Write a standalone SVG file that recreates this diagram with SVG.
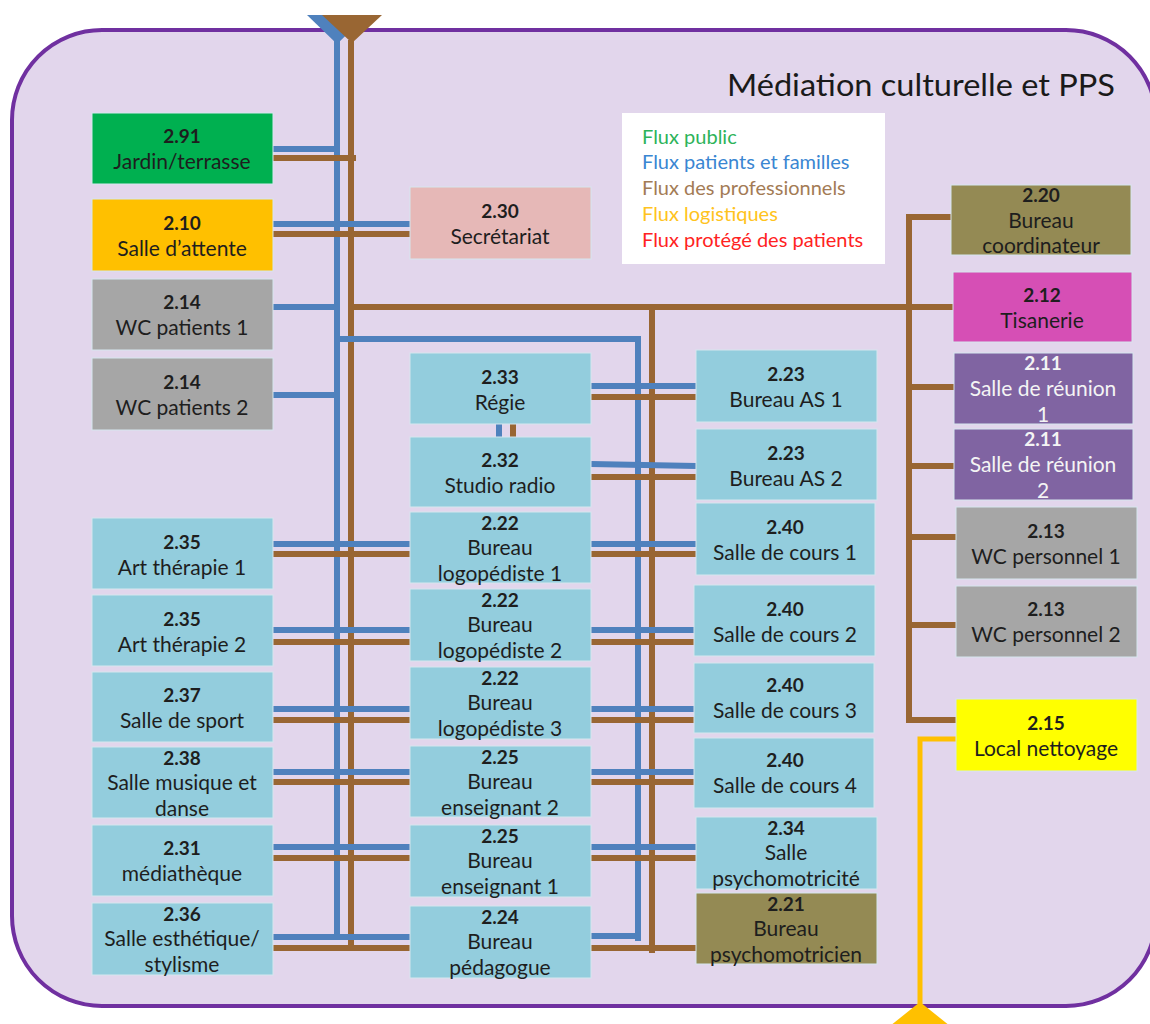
<svg xmlns="http://www.w3.org/2000/svg" width="1150" height="1024" viewBox="0 0 1150 1024">
  <style>
    .room { stroke: #D6E6EE; stroke-width: 1; }
    .blue-room { fill: #93CDDD; }
    .grey-room { fill: #A6A6A6; }
    .olive-room { fill: #948A54; }
    .lbl { font-family: Lato, "Liberation Sans", sans-serif; font-size: 21px; fill: #1E1E1E; text-anchor: middle; }
    .num { font-weight: bold; font-size: 19px; }
    .white { fill: #F4F4F4; }
    .bl { stroke: #4F81BD; stroke-width: 6; fill: none; }
    .br { stroke: #996633; stroke-width: 6; fill: none; }
    .lg { stroke: #FFC000; stroke-width: 5; fill: none; }
    .legend { font-family: Lato, "Liberation Sans", sans-serif; font-size: 20px; }
  </style>

  <!-- service outline -->
  <rect x="12" y="30" width="1144" height="976" rx="90" ry="90" fill="#E2D6EC" stroke="#7030A0" stroke-width="4"/>
  <text x="727" y="96" font-family="Lato, 'Liberation Sans', sans-serif" font-size="31" fill="#1A1A1A" textLength="388" lengthAdjust="spacingAndGlyphs">Médiation culturelle et PPS</text>

  <!-- legend -->
  <g id="legend">
    <rect x="622" y="113" width="263" height="151" fill="#FFFFFF"/>
    <text class="legend" x="642" y="144" fill="#2DB35A">Flux public</text>
    <text class="legend" x="642" y="169" fill="#3A86D2">Flux patients et familles</text>
    <text class="legend" x="642" y="195" fill="#A37B55">Flux des professionnels</text>
    <text class="legend" x="642" y="221" fill="#FFC320">Flux logistiques</text>
    <text class="legend" x="642" y="247" fill="#FF2222">Flux protégé des patients</text>
  </g>

  <!-- circulation lines -->
  <g id="connectors">
    <!-- main spines -->
    <line class="bl" x1="337" y1="40" x2="337" y2="940"/>
    <line class="br" x1="351" y1="40" x2="351" y2="950"/>
    <polyline class="bl" points="337,339 638,339 638,941"/>
    <line class="br" x1="351" y1="307" x2="953" y2="307"/>
    <line class="br" x1="652" y1="307" x2="652" y2="953"/>

    <!-- upper left rooms -->
    <line class="bl" x1="273" y1="149" x2="337" y2="149"/>
    <line class="br" x1="273" y1="158" x2="356" y2="158"/>
    <line class="bl" x1="273" y1="224" x2="410" y2="224"/>
    <line class="br" x1="273" y1="234" x2="410" y2="234"/>
    <line class="bl" x1="273" y1="307" x2="337" y2="307"/>
    <line class="bl" x1="273" y1="395" x2="337" y2="395"/>

    <!-- Régie / Studio -->
    <line class="bl" x1="591" y1="386" x2="696" y2="386"/>
    <line class="br" x1="591" y1="397" x2="696" y2="397"/>
    <line class="bl" x1="499" y1="424" x2="499" y2="437"/>
    <line class="br" x1="513" y1="424" x2="513" y2="437"/>
    <line class="bl" x1="591" y1="464" x2="696" y2="466"/>
    <line class="br" x1="591" y1="477" x2="696" y2="477"/>

    <!-- rows crossing the two spines -->
    <line class="bl" x1="273" y1="544" x2="410" y2="544"/>
    <line class="br" x1="273" y1="554" x2="410" y2="554"/>
    <line class="bl" x1="591" y1="544" x2="696" y2="544"/>
    <line class="br" x1="591" y1="554" x2="696" y2="554"/>

    <line class="bl" x1="273" y1="630" x2="410" y2="630"/>
    <line class="br" x1="273" y1="642" x2="410" y2="642"/>
    <line class="bl" x1="591" y1="630" x2="696" y2="630"/>
    <line class="br" x1="591" y1="642" x2="696" y2="642"/>

    <line class="bl" x1="273" y1="709" x2="410" y2="709"/>
    <line class="br" x1="273" y1="720" x2="410" y2="720"/>
    <line class="bl" x1="591" y1="709" x2="696" y2="709"/>
    <line class="br" x1="591" y1="720" x2="696" y2="720"/>

    <line class="bl" x1="273" y1="772" x2="410" y2="772"/>
    <line class="br" x1="273" y1="782" x2="410" y2="782"/>
    <line class="bl" x1="591" y1="772" x2="696" y2="772"/>
    <line class="br" x1="591" y1="782" x2="696" y2="782"/>

    <line class="bl" x1="273" y1="847" x2="410" y2="847"/>
    <line class="br" x1="273" y1="858" x2="410" y2="858"/>
    <line class="bl" x1="591" y1="847" x2="696" y2="847"/>
    <line class="br" x1="591" y1="858" x2="696" y2="858"/>

    <line class="bl" x1="273" y1="937" x2="410" y2="937"/>
    <line class="br" x1="273" y1="948" x2="410" y2="948"/>
    <line class="bl" x1="591" y1="936" x2="638" y2="936"/>
    <line class="br" x1="591" y1="948" x2="696" y2="948"/>

    <!-- staff spine on the right -->
    <polyline class="br" points="952,217 909,217 909,720 956,720"/>
    <line class="br" x1="909" y1="387" x2="954" y2="387"/>
    <line class="br" x1="909" y1="466" x2="954" y2="466"/>
    <line class="br" x1="909" y1="537" x2="956" y2="537"/>
    <line class="br" x1="909" y1="625" x2="956" y2="625"/>

    <!-- logistics -->
    <polyline class="lg" points="956,739 920,739 920,1004"/>

    <!-- entrances -->
    <polygon points="307,15 367,15 337,44" fill="#4F81BD"/>
    <polygon points="322,15 382,15 352,43" fill="#996633"/>
    <polygon points="920,1002 890,1026 950,1026" fill="#FFC000"/>
  </g>

  <!-- left column -->
  <g id="n291"><rect class="room" x="92" y="113" width="181" height="71" fill="#00B050"/>
    <text class="lbl" x="182"><tspan class="num" x="182" y="143">2.91</tspan><tspan x="182" y="169">Jardin/terrasse</tspan></text></g>
  <g id="n210"><rect class="room" x="92" y="199" width="181" height="72" fill="#FFC000"/>
    <text class="lbl" x="182"><tspan class="num" x="182" y="230">2.10</tspan><tspan x="182" y="256">Salle d’attente</tspan></text></g>
  <g id="n214a"><rect class="room grey-room" x="92" y="279" width="181" height="71"/>
    <text class="lbl" x="182"><tspan class="num" x="182" y="309">2.14</tspan><tspan x="182" y="335">WC patients 1</tspan></text></g>
  <g id="n214b"><rect class="room grey-room" x="92" y="358" width="181" height="72"/>
    <text class="lbl" x="182"><tspan class="num" x="182" y="389">2.14</tspan><tspan x="182" y="415">WC patients 2</tspan></text></g>

  <g id="n235a"><rect class="room blue-room" x="92" y="518" width="181" height="71"/>
    <text class="lbl" x="182"><tspan class="num" x="182" y="549">2.35</tspan><tspan x="182" y="575">Art thérapie 1</tspan></text></g>
  <g id="n235b"><rect class="room blue-room" x="92" y="595" width="181" height="71"/>
    <text class="lbl" x="182"><tspan class="num" x="182" y="626">2.35</tspan><tspan x="182" y="652">Art thérapie 2</tspan></text></g>
  <g id="n237"><rect class="room blue-room" x="92" y="672" width="181" height="70"/>
    <text class="lbl" x="182"><tspan class="num" x="182" y="702">2.37</tspan><tspan x="182" y="728">Salle de sport</tspan></text></g>
  <g id="n238"><rect class="room blue-room" x="92" y="747" width="181" height="71"/>
    <text class="lbl" x="182"><tspan class="num" x="182" y="765">2.38</tspan><tspan x="182" y="790">Salle musique et</tspan><tspan x="182" y="816">danse</tspan></text></g>
  <g id="n231"><rect class="room blue-room" x="92" y="825" width="181" height="71"/>
    <text class="lbl" x="182"><tspan class="num" x="182" y="855">2.31</tspan><tspan x="182" y="881">médiathèque</tspan></text></g>
  <g id="n236"><rect class="room blue-room" x="92" y="903" width="181" height="72"/>
    <text class="lbl" x="182"><tspan class="num" x="182" y="921">2.36</tspan><tspan x="182" y="946">Salle esthétique/</tspan><tspan x="182" y="972">stylisme</tspan></text></g>

  <!-- middle column -->
  <g id="n230"><rect class="room" x="410" y="187" width="181" height="72" fill="#E6B8B7"/>
    <text class="lbl" x="500"><tspan class="num" x="500" y="218">2.30</tspan><tspan x="500" y="244">Secrétariat</tspan></text></g>
  <g id="n233"><rect class="room blue-room" x="410" y="353" width="181" height="71"/>
    <text class="lbl" x="500"><tspan class="num" x="500" y="384">2.33</tspan><tspan x="500" y="410">Régie</tspan></text></g>
  <g id="n232"><rect class="room blue-room" x="410" y="437" width="181" height="70"/>
    <text class="lbl" x="500"><tspan class="num" x="500" y="467">2.32</tspan><tspan x="500" y="493">Studio radio</tspan></text></g>
  <g id="n222a"><rect class="room blue-room" x="410" y="512" width="181" height="71"/>
    <text class="lbl" x="500"><tspan class="num" x="500" y="530">2.22</tspan><tspan x="500" y="555">Bureau</tspan><tspan x="500" y="581">logopédiste 1</tspan></text></g>
  <g id="n222b"><rect class="room blue-room" x="410" y="589" width="181" height="72"/>
    <text class="lbl" x="500"><tspan class="num" x="500" y="607">2.22</tspan><tspan x="500" y="632">Bureau</tspan><tspan x="500" y="658">logopédiste 2</tspan></text></g>
  <g id="n222c"><rect class="room blue-room" x="410" y="667" width="181" height="72"/>
    <text class="lbl" x="500"><tspan class="num" x="500" y="685">2.22</tspan><tspan x="500" y="710">Bureau</tspan><tspan x="500" y="736">logopédiste 3</tspan></text></g>
  <g id="n225b"><rect class="room blue-room" x="410" y="746" width="181" height="71"/>
    <text class="lbl" x="500"><tspan class="num" x="500" y="764">2.25</tspan><tspan x="500" y="789">Bureau</tspan><tspan x="500" y="815">enseignant 2</tspan></text></g>
  <g id="n225a"><rect class="room blue-room" x="410" y="825" width="181" height="72"/>
    <text class="lbl" x="500"><tspan class="num" x="500" y="843">2.25</tspan><tspan x="500" y="868">Bureau</tspan><tspan x="500" y="894">enseignant 1</tspan></text></g>
  <g id="n224"><rect class="room blue-room" x="410" y="906" width="181" height="72"/>
    <text class="lbl" x="500"><tspan class="num" x="500" y="924">2.24</tspan><tspan x="500" y="949">Bureau</tspan><tspan x="500" y="975">pédagogue</tspan></text></g>

  <!-- right-middle column -->
  <g id="n223a"><rect class="room blue-room" x="696" y="350" width="181" height="72"/>
    <text class="lbl" x="786"><tspan class="num" x="786" y="381">2.23</tspan><tspan x="786" y="407">Bureau AS 1</tspan></text></g>
  <g id="n223b"><rect class="room blue-room" x="696" y="429" width="181" height="71"/>
    <text class="lbl" x="786"><tspan class="num" x="786" y="460">2.23</tspan><tspan x="786" y="486">Bureau AS 2</tspan></text></g>
  <g id="n240a"><rect class="room blue-room" x="696" y="503" width="179" height="72"/>
    <text class="lbl" x="785"><tspan class="num" x="785" y="534">2.40</tspan><tspan x="785" y="560">Salle de cours 1</tspan></text></g>
  <g id="n240b"><rect class="room blue-room" x="694" y="585" width="181" height="71"/>
    <text class="lbl" x="785"><tspan class="num" x="785" y="616">2.40</tspan><tspan x="785" y="642">Salle de cours 2</tspan></text></g>
  <g id="n240c"><rect class="room blue-room" x="694" y="663" width="180" height="70"/>
    <text class="lbl" x="785"><tspan class="num" x="785" y="692">2.40</tspan><tspan x="785" y="718">Salle de cours 3</tspan></text></g>
  <g id="n240d"><rect class="room blue-room" x="694" y="738" width="180" height="70"/>
    <text class="lbl" x="785"><tspan class="num" x="785" y="767">2.40</tspan><tspan x="785" y="793">Salle de cours 4</tspan></text></g>
  <g id="n234"><rect class="room blue-room" x="696" y="817" width="181" height="72"/>
    <text class="lbl" x="786"><tspan class="num" x="786" y="835">2.34</tspan><tspan x="786" y="860">Salle</tspan><tspan x="786" y="886">psychomotricité</tspan></text></g>
  <g id="n221"><rect class="room olive-room" x="696" y="893" width="181" height="71"/>
    <text class="lbl" x="786"><tspan class="num" x="786" y="911">2.21</tspan><tspan x="786" y="936">Bureau</tspan><tspan x="786" y="962">psychomotricien</tspan></text></g>

  <!-- right column -->
  <g id="n220"><rect class="room olive-room" x="951" y="185" width="180" height="70"/>
    <text class="lbl" x="1041"><tspan class="num" x="1041" y="202">2.20</tspan><tspan x="1041" y="228">Bureau</tspan><tspan x="1041" y="253">coordinateur</tspan></text></g>
  <g id="n212"><rect class="room" x="953" y="272" width="179" height="70" fill="#D64FB5"/>
    <text class="lbl" x="1042"><tspan class="num" x="1042" y="302">2.12</tspan><tspan x="1042" y="328">Tisanerie</tspan></text></g>
  <g id="n211a"><rect class="room" x="954" y="353" width="179" height="71" fill="#8064A2"/>
    <text class="lbl white" x="1043"><tspan class="num" x="1043" y="370">2.11</tspan><tspan x="1043" y="396">Salle de réunion</tspan><tspan x="1043" y="422">1</tspan></text></g>
  <g id="n211b"><rect class="room" x="954" y="429" width="179" height="71" fill="#8064A2"/>
    <text class="lbl white" x="1043"><tspan class="num" x="1043" y="446">2.11</tspan><tspan x="1043" y="472">Salle de réunion</tspan><tspan x="1043" y="498">2</tspan></text></g>
  <g id="n213a"><rect class="room grey-room" x="956" y="507" width="181" height="72"/>
    <text class="lbl" x="1046"><tspan class="num" x="1046" y="538">2.13</tspan><tspan x="1046" y="564">WC personnel 1</tspan></text></g>
  <g id="n213b"><rect class="room grey-room" x="956" y="586" width="181" height="71"/>
    <text class="lbl" x="1046"><tspan class="num" x="1046" y="616">2.13</tspan><tspan x="1046" y="642">WC personnel 2</tspan></text></g>
  <g id="n215"><rect class="room" x="956" y="699" width="181" height="72" fill="#FFFF00"/>
    <text class="lbl" x="1046"><tspan class="num" x="1046" y="730">2.15</tspan><tspan x="1046" y="756">Local nettoyage</tspan></text></g>
</svg>
